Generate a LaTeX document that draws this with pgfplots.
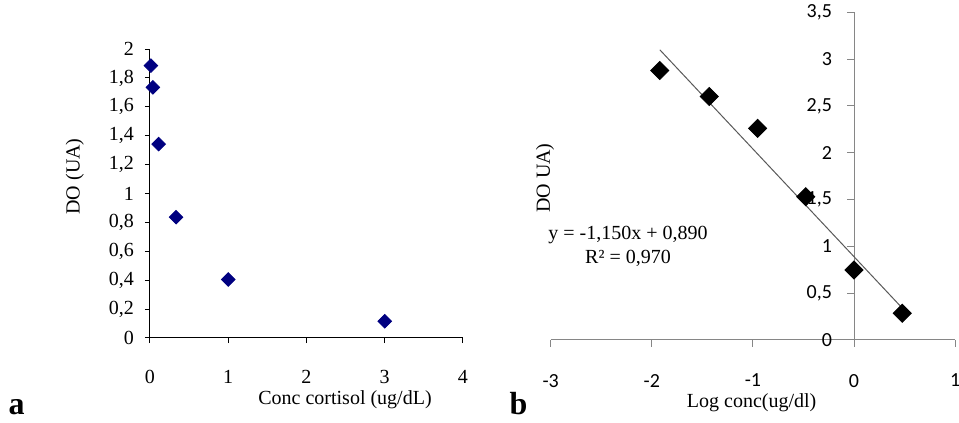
\documentclass[border=0pt]{standalone}
\usepackage{fontspec}
\setmainfont{Liberation Serif}
\newfontfamily\calibri{Carlito}
\usepackage{pgfplots}
\pgfplotsset{compat=1.18}
\definecolor{navy}{HTML}{000080}
\definecolor{axgray}{HTML}{868686}
\definecolor{trend}{HTML}{595959}

\begin{document}
\begin{tikzpicture}
\useasboundingbox (0,0) rectangle (479.5pt,211.5pt);
% panel a
\begin{axis}[
  scale only axis, width=156.5pt, height=144.5pt,
  at={(75pt,42.5pt)}, anchor=south west,
  xmin=0, xmax=4, ymin=0, ymax=2,
  axis lines=left, axis line style={-, black, line width=0.5pt},
  xtick={0,1,2,3,4}, ytick={0,0.2,...,2.01},
  tick align=outside, major tick length=2.5pt, tick style={black, line width=0.5pt},
  font=\fontsize{10}{12}\selectfont,
  /pgf/number format/assume math mode=true,
  /pgf/number format/use comma,
  /pgf/number format/fixed,
  xticklabel style={yshift=-10pt},
  yticklabel style={xshift=-2pt},
  xlabel={Conc cortisol (ug/dL)}, ylabel={DO (UA)},
  xlabel style={at={(axis description cs:0.623,-0.215)}, anchor=center},
  ylabel style={at={(axis description cs:-0.24,0.559)}, anchor=center},
  clip=false,
]
\addplot[only marks, mark=square*, mark size=2.4pt, mark options={rotate=45, fill=navy, draw=navy}]
  coordinates {(0.012,1.885) (0.037,1.735) (0.111,1.342) (0.333,0.836) (1,0.405) (3,0.116)};
\end{axis}
% panel b
\begin{axis}[
  scale only axis, width=202.2pt, height=163.9pt,
  at={(275.35pt,41.5pt)}, anchor=south west,
  xmin=-3, xmax=1, ymin=0, ymax=3.5,
  axis x line=bottom, axis y line=center, axis line style={-, axgray, line width=0.5pt},
  hide obscured x ticks=false, hide obscured y ticks=false,
  xtick={-3,-2,-1,0,1}, ytick={0,0.5,...,3.51},
  tick align=outside, major tick length=3.5pt, tick style={axgray, line width=0.5pt},
  font=\fontsize{10}{12}\selectfont,
  ticklabel style={font=\calibri\fontsize{10}{12}\selectfont},
  /pgf/number format/assume math mode=true,
  /pgf/number format/use comma,
  /pgf/number format/fixed,
  xticklabel style={yshift=-10pt},
  yticklabel style={xshift=-4pt},
  xlabel={Log conc(ug/dl)}, ylabel={DO UA)},
  xlabel style={at={(axis description cs:0.497,-0.192)}, anchor=center},
  ylabel style={at={(axis description cs:-0.014,0.494)}, anchor=center, rotate=90},
  clip=false,
]
\addplot[trend, line width=0.5pt, no marks] coordinates {(-1.921,3.099) (0.477,0.341)};
\addplot[only marks, mark=square*, mark size=3.2pt, mark options={rotate=45, fill=black, draw=black}]
  coordinates {(-1.921,2.877) (-1.431,2.60) (-0.954,2.26) (-0.477,1.53) (0,0.748) (0.477,0.285)};
\node[anchor=center] at (axis cs:-2.235,1.12) {y = -1,150x + 0,890};
\node[anchor=center] at (axis cs:-2.235,0.876) {R² = 0,970};
\end{axis}
\node[font=\bfseries\fontsize{16}{18}\selectfont] at (8.35pt,8.15pt) {a};
\node[font=\bfseries\fontsize{16}{18}\selectfont] at (259.2pt,9.8pt) {b};
\end{tikzpicture}
\end{document}
